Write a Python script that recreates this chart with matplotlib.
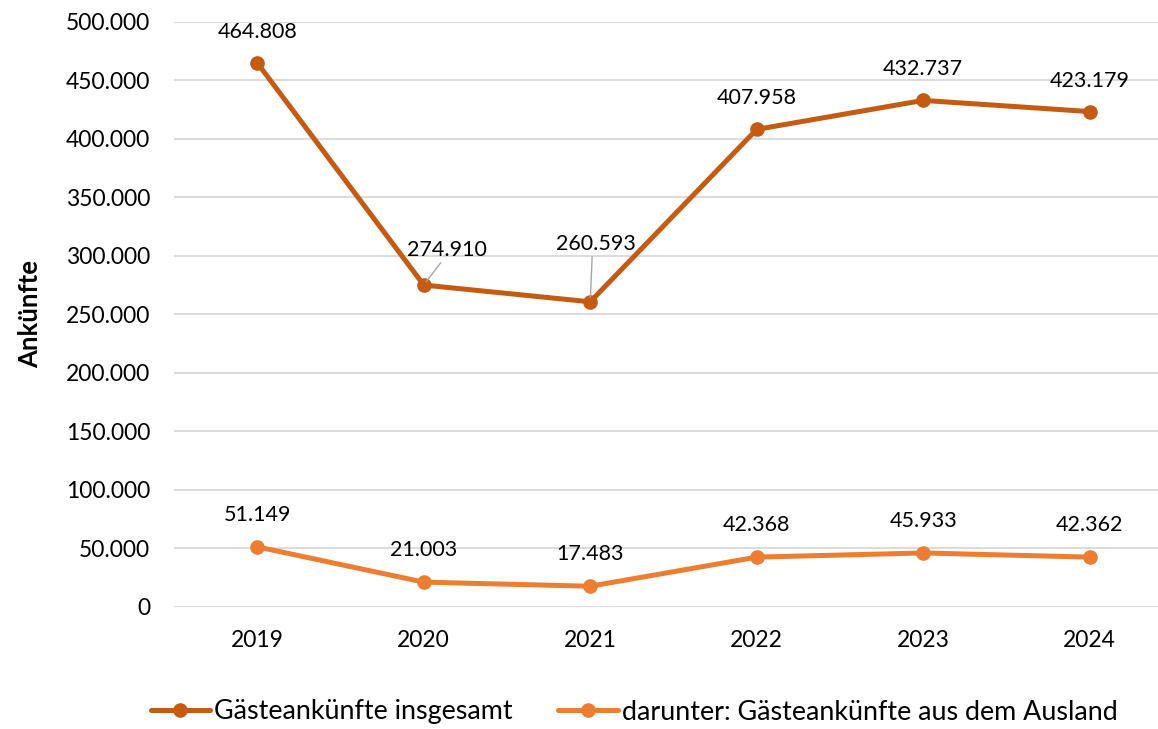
import matplotlib
matplotlib.use("Agg")
import matplotlib.pyplot as plt
from matplotlib.ticker import FuncFormatter, MultipleLocator

plt.rcParams['font.family'] = ['Lato', 'DejaVu Sans']

years = ["2019", "2020", "2021", "2022", "2023", "2024"]
total = [464808, 274910, 260593, 407958, 432737, 423179]
foreign = [51149, 21003, 17483, 42368, 45933, 42362]
label_total = "Gästeankünfte insgesamt"
label_foreign = "darunter: Gästeankünfte aus dem Ausland"

c_total = "#C55A11"
c_foreign = "#ED7D31"

def fmt(v):
    return f"{int(v):,}".replace(",", ".")

fig = plt.figure(figsize=(11.58, 7.29), dpi=100)
ax = fig.add_axes([174/1158, 1 - 606.7/729, 1 - 174/1158, (606.7 - 21.7)/729])

x = list(range(len(years)))
ax.plot(x, total, color=c_total, lw=3.6, marker='o', ms=9.5, label=label_total,
        solid_capstyle='round', zorder=3)
ax.plot(x, foreign, color=c_foreign, lw=3.6, marker='o', ms=9.5, label=label_foreign,
        solid_capstyle='round', zorder=3)

ax.set_ylim(0, 500000)
ax.set_xlim(-0.5, 5.41)
ax.yaxis.set_major_locator(MultipleLocator(50000))
ax.yaxis.set_major_formatter(FuncFormatter(lambda v, p: fmt(v)))
ax.set_xticks(x)
ax.set_xticklabels(years)
ax.grid(axis='y', color='#D9D9D9', lw=1.3)
ax.set_axisbelow(True)
for s in ax.spines.values():
    s.set_visible(False)
ax.tick_params(axis='both', length=0, labelsize=16.5, colors='black')
ax.tick_params(axis='x', pad=17)
ax.tick_params(axis='y', pad=17)
ax.set_ylabel("Ankünfte", fontsize=18.5, fontweight='bold')
ax.yaxis.set_label_coords(-(174 - 42) / (1158 - 174), 0.5)

# data labels
for i, v in enumerate(total):
    if i == 1:
        ax.annotate(fmt(v), (i, v), xytext=(23, 35), textcoords='offset pixels',
                    ha='center', va='center', fontsize=15.5,
                    arrowprops=dict(arrowstyle='-', color='#A6A6A6', lw=1,
                                    shrinkA=0, shrinkB=3, relpos=(0.45, 0.0)))
    elif i == 2:
        ax.annotate(fmt(v), (i, v), xytext=(6, 58), textcoords='offset pixels',
                    ha='center', va='center', fontsize=15.5,
                    arrowprops=dict(arrowstyle='-', color='#A6A6A6', lw=1,
                                    shrinkA=0, shrinkB=3, relpos=(0.45, 0.0)))
    else:
        ax.annotate(fmt(v), (i, v), xytext=(0, 31), textcoords='offset pixels',
                    ha='center', va='center', fontsize=15.5)
for i, v in enumerate(foreign):
    ax.annotate(fmt(v), (i, v), xytext=(0, 32), textcoords='offset pixels',
                ha='center', va='center', fontsize=15.5)

fig.legend(loc='center', bbox_to_anchor=(634/1158, 1 - 712/729), ncol=2, frameon=False,
           fontsize=19.4, handlelength=2.2, handletextpad=0.15, columnspacing=1.7)

fig.savefig("out.png", dpi=100)
